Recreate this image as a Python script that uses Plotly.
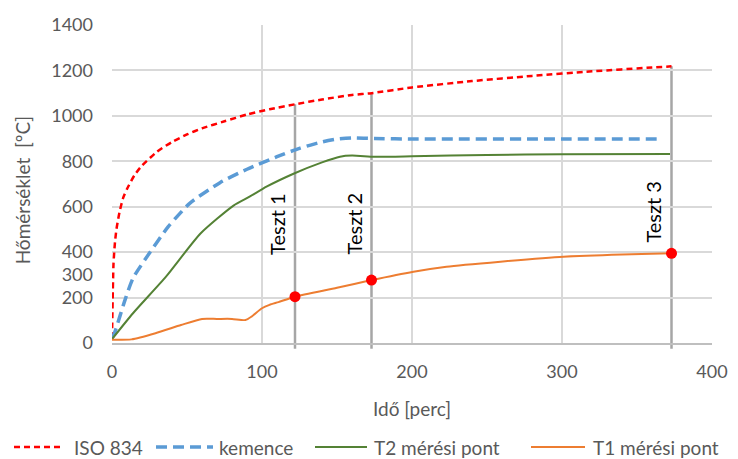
import plotly.graph_objects as go

# ISO 834 standard curve
iso_t = [0, 1, 2, 3, 5, 7.5, 10, 15, 20, 30, 40, 50, 60, 75, 90, 105, 122, 140, 160, 173, 200, 240, 280, 320, 360, 373]
iso_v = [20, 349, 445, 502, 576, 640, 678, 739, 781, 842, 885, 918, 945, 976, 1006, 1029, 1051, 1072, 1092, 1100, 1125, 1153, 1176, 1196, 1213, 1218]

# kemence (furnace)
kem_t = [0, 2, 8.7, 14, 25, 37.5, 52, 72, 90, 110, 125, 140, 150, 160, 175, 200, 300, 367]
kem_v = [20, 50, 190, 285, 396, 512, 616, 706, 765, 820, 857, 885, 898, 903, 900, 898, 898, 898]

# T2 measuring point
t2_t = [0, 14, 36, 59, 81, 92, 103, 121, 140, 152, 160, 175, 200, 250, 300, 372]
t2_v = [17, 131, 292, 482, 605, 645, 688, 745, 795, 820, 825, 820, 822, 828, 831, 832]

# T1 measuring point
t1_t = [0, 13, 29, 46, 60, 70, 80, 89, 93, 100, 105, 111, 122, 150, 173, 201, 223, 259, 301, 340, 373]
t1_v = [14, 16, 43, 79, 106, 106, 106, 101, 116, 153, 168, 180, 204, 243, 277, 314, 336, 358, 380, 390, 395]

series_names = ["ISO 834", "kemence", "T2 mérési pont", "T1 mérési pont"]

# Tests
test_names = ["Teszt 1", "Teszt 2", "Teszt 3"]
test_t = [122, 173, 373]
test_t1 = [204, 277, 395]
test_iso = [1051, 1100, 1218]
label_base = [379, 379, 431]

x_ticks = [0, 100, 200, 300, 400]
y_ticks = [0, 200, 400, 600, 800, 1000, 1200, 1400]
extra_y_tick = [300]

x_title = "Idő [perc]"
y_title = "Hőmérséklet  [ºC]"

FONT = "Lato, 'Open Sans', sans-serif"
TICK_COLOR = "#595959"
GRID = "#D9D9D9"

styles = [
    dict(color="#FF0000", width=2.5, dash="6px,4px"),
    dict(color="#5B9BD5", width=3.5, dash="11px,6px"),
    dict(color="#548235", width=2, dash="solid"),
    dict(color="#ED7D31", width=2, dash="solid"),
]
data = [(iso_t, iso_v), (kem_t, kem_v), (t2_t, t2_v), (t1_t, t1_v)]

fig = go.Figure()
for name, (xs, ys), st in zip(series_names, data, styles):
    fig.add_trace(go.Scatter(x=xs, y=ys, mode="lines", name=name,
                             line=dict(shape="spline", smoothing=0.6, **st)))

fig.add_trace(go.Scatter(x=test_t, y=test_t1, mode="markers", showlegend=False,
                         marker=dict(color="#FF0000", size=11), cliponaxis=False))

W, H = 738, 459
ML, MR, MT, MB = 112, 26, 25, 116
pw, ph = W - ML - MR, H - MT - MB


def px_x(p):
    return (p - ML) / pw


def px_y(p):
    return (H - MB - p) / ph


shapes = []
annotations = []
for name, t, iv, lb in zip(test_names, test_t, test_iso, label_base):
    shapes.append(dict(type="line", xref="x", yref="paper", x0=t, x1=t,
                       y0=-0.018, y1=iv / 1400.0, layer="below",
                       line=dict(color="#A6A6A6", width=2.5)))
    annotations.append(dict(x=t, y=lb, xref="x", yref="y", text=name, showarrow=False,
                            textangle=-90, xanchor="right", yanchor="bottom", xshift=-4,
                            font=dict(family=FONT, size=20, color="#000000")))

# axis titles
annotations.append(dict(x=0.5, y=px_y(408), xref="paper", yref="paper", text=x_title,
                        showarrow=False, xanchor="center", yanchor="middle",
                        font=dict(family=FONT, size=19, color=TICK_COLOR)))
annotations.append(dict(x=px_x(22), y=0.48, xref="paper", yref="paper", text=y_title,
                        showarrow=False, textangle=-90, xanchor="center", yanchor="middle",
                        font=dict(family=FONT, size=19, color=TICK_COLOR)))

# legend row laid out like the reference (symbol start, symbol end, text start in px)
legend_pos = [(14, 64, 72), (156, 213, 217), (315, 367, 372), (531, 585, 591)]
leg_y = px_y(447)
for name, st, (s0, s1, tx) in zip(series_names, styles, legend_pos):
    shapes.append(dict(type="line", xref="paper", yref="paper", x0=px_x(s0), x1=px_x(s1),
                       y0=leg_y, y1=leg_y, line=st))
    annotations.append(dict(x=px_x(tx), y=leg_y, xref="paper", yref="paper", text=name,
                            showarrow=False, xanchor="left", yanchor="middle",
                            font=dict(family=FONT, size=19, color=TICK_COLOR)))

fig.update_layout(
    width=W, height=H,
    margin=dict(l=ML, r=MR, t=MT, b=MB),
    paper_bgcolor="white", plot_bgcolor="white",
    font=dict(family=FONT, color=TICK_COLOR),
    shapes=shapes, annotations=annotations,
    showlegend=False,
    xaxis=dict(range=[0, 400], tickvals=x_ticks, showgrid=True, gridcolor=GRID, gridwidth=1.5,
               zeroline=False, showline=True, linecolor="#BFBFBF", linewidth=1.5,
               automargin=False, ticklabelstandoff=12,
               tickfont=dict(size=18, color=TICK_COLOR)),
    yaxis=dict(range=[0, 1400], tickvals=y_ticks, showgrid=True, gridcolor=GRID, gridwidth=1.5,
               zeroline=False, showline=False, automargin=False,
               tickfont=dict(size=18, color=TICK_COLOR), ticklabelstandoff=18),
    yaxis2=dict(range=[0, 1400], tickvals=extra_y_tick, overlaying="y", side="left",
                showgrid=False, zeroline=False, showline=False, ticklabelstandoff=18,
                automargin=False, tickfont=dict(size=18, color=TICK_COLOR)),
)

fig.add_trace(go.Scatter(x=[None], y=[None], yaxis="y2", showlegend=False, hoverinfo="skip"))

fig.write_html("out.html", config={"displayModeBar": False},
               post_script="document.body.style.margin='0';")
